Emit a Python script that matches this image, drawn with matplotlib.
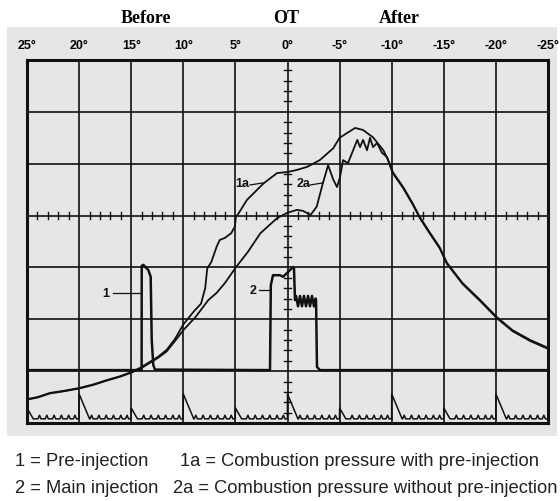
import numpy as np
import matplotlib.pyplot as plt
from matplotlib.patches import Rectangle

# crank angle (deg before OT positive) and pressure trace, in grid divisions
deg_1a = [25, 24, 22.8, 21.5, 20.1, 18.7, 17.3, 16.1, 15.0, 14.1, 13.2, 12.4, 11.6,
          10.8, 10.0, 9.0, 8.3, 7.9, 7.7, 7.3, 6.8, 6.5, 6.0, 5.4, 5.05, 4.95, 4.7,
          3.9, 3.6, 2.3, 1.0, 0.0, -0.9, -1.9, -3.1, -4.4, -5.0, -5.7, -6.5, -7.25,
          -8.2, -9.2, -9.65, -10.1, -11.1, -12.0, -12.7, -13.7, -14.6, -15.3, -16.8,
          -18.5, -20.1, -21.6, -23.3, -25]
p_1a = [0.46, 0.50, 0.58, 0.62, 0.67, 0.74, 0.83, 0.90, 0.98, 1.07, 1.18, 1.28, 1.41,
        1.62, 1.90, 2.15, 2.30, 2.60, 2.98, 3.11, 3.40, 3.53, 3.57, 3.66, 3.79, 3.98, 4.04,
        4.30, 4.36, 4.62, 4.82, 4.84, 4.88, 4.94, 5.07, 5.30, 5.50, 5.59, 5.69, 5.65,
        5.51, 5.26, 5.07, 4.84, 4.55, 4.24, 3.97, 3.66, 3.39, 3.09, 2.70,
        2.37, 2.04, 1.79, 1.60, 1.45]

deg_2a = [25, 24, 22.8, 21.5, 20.1, 18.7, 17.3, 16.1, 15.0, 14.1, 13.2, 12.4, 11.6,
          10.8, 10.0, 8.8, 7.6, 6.8, 6.0, 5.0, 3.8, 2.6, 1.0, 0.05, -0.25, -0.9, -1.5,
          -2.2, -2.8, -3.1, -3.4, -3.9, -4.4, -4.75, -5.04, -5.33, -5.8, -6.3, -6.7,
          -6.96, -7.25, -7.63, -7.92, -8.21, -8.59, -9.07, -9.55, -10.1, -11.1, -12.0,
          -12.7, -13.7, -14.6, -15.3, -16.8, -18.5, -20.1, -21.6, -23.3, -25]
p_2a = [0.45, 0.49, 0.57, 0.61, 0.66, 0.73, 0.82, 0.89, 0.97, 1.05, 1.16, 1.26, 1.38,
        1.58, 1.79, 2.05, 2.37, 2.51, 2.70, 2.99, 3.30, 3.66, 3.95, 4.05, 4.07, 4.11, 4.09,
        4.01, 4.17, 4.40, 4.63, 4.97, 4.69, 4.55, 4.74, 5.07, 5.01, 5.26, 5.46,
        5.32, 5.46, 5.26, 5.50, 5.32, 5.40, 5.21, 5.13, 4.82, 4.53, 4.22,
        3.95, 3.64, 3.37, 3.07, 2.68, 2.35, 2.02, 1.77, 1.58, 1.43]

# injection needle signal (1 = pre-injection, 2 = main injection)
deg_inj = [25, 14.0, 13.99, 13.84, 13.36, 13.13, 13.03, 12.88, 12.72,
           1.68, 1.6, 1.39, 0.72, 0.43, -0.05, -0.53, -0.62, -0.72,
           -0.82, -1.01, -1.2, -1.39, -1.58, -1.78, -1.97, -2.16, -2.35, -2.54,
           -2.69, -2.74, -2.83, -3.12, -25]
lvl_inj = [1.02, 1.02, 3.03, 3.05, 2.95, 2.82, 1.60, 1.12, 1.03,
           1.02, 2.66, 2.85, 2.85, 2.82, 2.91, 3.01, 2.99, 2.37,
           2.45, 2.25, 2.45, 2.25, 2.45, 2.25, 2.45, 2.25, 2.45, 2.25,
           2.40, 2.37, 1.08, 1.02, 1.02]

# crank angle marks at the bottom
mark_deg = [25, 20, 15, 10, 5, 0, -5, -10, -15, -20]
mark_height = [0.29, 0.56, 0.29, 0.56, 0.29, 0.56, 0.29, 0.56, 0.29, 0.56]
tooth_offsets = [1.2, 1.9, 2.6, 3.3, 4.0, 4.6]
mark_base = 0.08

tick_labels = ['25°', '20°', '15°', '10°', '5°', '0°', '-5°', '-10°', '-15°', '-20°', '-25°']
tick_pos = [25, 20, 15, 10, 5, 0, -5, -10, -15, -20, -25]

legend_rows = [('1 = Pre-injection', '1a = Combustion pressure with pre-injection'),
               ('2 = Main injection', '2a = Combustion pressure without pre-injection')]

bg = '#e6e6e6'
ink = '#111111'

fig = plt.figure(figsize=(5.6, 5.01), dpi=100)
W, H = 560, 501
fig.patches.append(Rectangle((7 / W, 1 - 436 / H), 550 / W, 409 / H,
                             transform=fig.transFigure, facecolor=bg, edgecolor='none', zorder=-5))

ax = fig.add_axes([27 / W, 1 - 423 / H, 521 / W, 363 / H])
ax.set_facecolor(bg)
ax.set_xlim(25, -25)
ax.set_ylim(0, 7)

# graticule
for x in tick_pos:
    ax.axvline(x, color=ink, lw=1.2, zorder=1)
for y in range(8):
    ax.axhline(y, color=ink, lw=1.2, zorder=1)
for s in ax.spines.values():
    s.set_linewidth(2.2)
    s.set_color(ink)

minor_deg = [d for d in range(-24, 25) if d % 5]
for d in minor_deg:
    ax.plot([d, d], [3.93, 4.07], color=ink, lw=1.0, zorder=1)
minor_y = [y / 5 for y in range(1, 35) if y % 5]
for y in minor_y:
    ax.plot([0.35, -0.35], [y, y], color=ink, lw=1.0, zorder=1)

ax.set_xticks(tick_pos)
ax.set_xticklabels(tick_labels, fontsize=9, fontweight='bold', family='Liberation Sans')
ax.xaxis.tick_top()
ax.tick_params(axis='x', length=0, pad=6)
ax.set_yticks([])

# traces
ax.plot(deg_1a, p_1a, color=ink, lw=1.3, zorder=3)
ax.plot(deg_2a, p_2a, color=ink, lw=1.3, zorder=3)
ax.plot(deg_inj, lvl_inj, color=ink, lw=1.8, zorder=3)

# crank angle mark trace
pts = [(25.2, mark_base), (-25, mark_base)]
for m, h in zip(mark_deg, mark_height):
    w = 1.0 if h > 0.4 else 0.6
    pts += [(m + 0.01, mark_base), (m, h), (m - w, mark_base)]
    for t in tooth_offsets:
        pts += [(m - t + 0.15, mark_base), (m - t, mark_base + 0.07), (m - t - 0.15, mark_base)]
pts.sort(key=lambda p: -p[0])
mx, my = zip(*pts)
ax.plot(mx, my, color=ink, lw=1.1, zorder=3)

# labels on the traces
lab = dict(fontsize=9, fontweight='bold', family='Liberation Sans', color=ink, va='center', ha='center')
ax.text(17.42, 2.49, '1', **lab)
ax.plot([16.75, 14.06], [2.51, 2.51], color=ink, lw=0.9)
ax.text(3.35, 2.55, '2', **lab)
ax.plot([2.73, 1.68], [2.56, 2.56], color=ink, lw=0.9)
ax.text(4.32, 4.60, '1a', **lab)
ax.plot([3.6, 2.35], [4.59, 4.63], color=ink, lw=0.9)
ax.text(-1.53, 4.60, '2a', **lab)
ax.plot([-2.16, -3.4], [4.59, 4.63], color=ink, lw=0.9)

# header
hdr = dict(fontsize=13, fontweight='bold', family='Liberation Serif', va='baseline', ha='center')
fig.text(146 / W, 1 - 23 / H, 'Before', **hdr)
fig.text(286 / W, 1 - 23 / H, 'OT', **hdr)
fig.text(399 / W, 1 - 23 / H, 'After', **hdr)

# legend text under the chart
leg = dict(fontsize=13.2, family='Liberation Sans', color='#222222', va='baseline')
fig.text(15 / W, 1 - 466 / H, legend_rows[0][0], **leg)
fig.text(180 / W, 1 - 466 / H, legend_rows[0][1], **leg)
fig.text(15 / W, 1 - 493 / H, legend_rows[1][0], **leg)
fig.text(173 / W, 1 - 493 / H, legend_rows[1][1], **leg)

fig.savefig('out.png', dpi=100)
